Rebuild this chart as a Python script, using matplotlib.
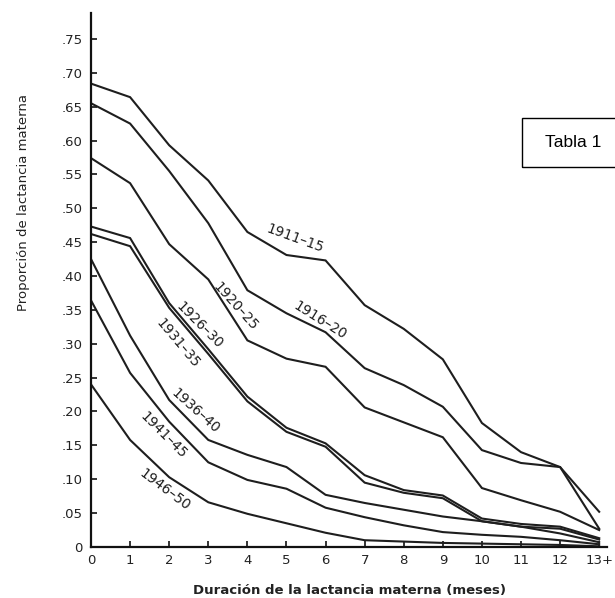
import matplotlib
matplotlib.use("Agg")
import matplotlib.pyplot as plt
from matplotlib.patches import Rectangle

months = list(range(14))
x_labels = ["0", "1", "2", "3", "4", "5", "6", "7", "8", "9", "10", "11", "12", "13+"]
y_ticks = [0, .05, .10, .15, .20, .25, .30, .35, .40, .45, .50, .55, .60, .65, .70, .75]
y_labels = ["0", ".05", ".10", ".15", ".20", ".25", ".30", ".35", ".40", ".45",
            ".50", ".55", ".60", ".65", ".70", ".75"]

c1911_15 = [0.684, 0.664, 0.593, 0.541, 0.465, 0.431, 0.423, 0.357, 0.322, 0.277, 0.183, 0.140, 0.118, 0.052]
c1916_20 = [0.655, 0.625, 0.555, 0.478, 0.379, 0.345, 0.317, 0.264, 0.239, 0.207, 0.143, 0.124, 0.118, 0.027]
c1920_25 = [0.574, 0.537, 0.447, 0.395, 0.305, 0.278, 0.266, 0.206, 0.184, 0.162, 0.087, 0.069, 0.052, 0.025]
c1926_30 = [0.473, 0.456, 0.360, 0.292, 0.222, 0.176, 0.153, 0.106, 0.084, 0.076, 0.042, 0.034, 0.030, 0.013]
c1931_35 = [0.462, 0.444, 0.353, 0.285, 0.215, 0.170, 0.148, 0.095, 0.080, 0.072, 0.038, 0.030, 0.027, 0.011]
c1936_40 = [0.425, 0.312, 0.217, 0.158, 0.136, 0.118, 0.077, 0.065, 0.055, 0.045, 0.038, 0.030, 0.020, 0.007]
c1941_45 = [0.364, 0.257, 0.185, 0.125, 0.099, 0.086, 0.058, 0.044, 0.032, 0.022, 0.018, 0.015, 0.010, 0.004]
c1946_50 = [0.240, 0.158, 0.103, 0.066, 0.049, 0.035, 0.021, 0.010, 0.008, 0.006, 0.005, 0.004, 0.003, 0.001]

series = [
    ("1911–15", c1911_15, 5.22, 0.455, -20),
    ("1916–20", c1916_20, 5.86, 0.335, -32),
    ("1920–25", c1920_25, 3.68, 0.355, -48),
    ("1926–30", c1926_30, 2.76, 0.327, -45),
    ("1931–35", c1931_35, 2.23, 0.301, -50),
    ("1936–40", c1936_40, 2.68, 0.201, -42),
    ("1941–45", c1941_45, 1.84, 0.165, -45),
    ("1946–50", c1946_50, 1.89, 0.084, -37),
]

fig = plt.figure(figsize=(6.15, 5.98), dpi=100)
ax = fig.add_axes([0.148, 0.0853, 0.839, 0.8927])

line_color = "#1e1e1e"
for name, vals, tx, ty, rot in series:
    ax.plot(months, vals, color=line_color, linewidth=1.5, solid_joinstyle="miter")
    ax.text(tx, ty, name, rotation=rot, ha="center", va="center",
            fontsize=10, color="#1e1e1e", rotation_mode="anchor")

ax.set_xlim(0, 13.2)
ax.set_ylim(0, 0.788)
ax.set_xticks(months)
ax.set_xticklabels(x_labels)
ax.set_yticks(y_ticks)
ax.set_yticklabels(y_labels)

for s in ["top", "right"]:
    ax.spines[s].set_visible(False)
for s in ["left", "bottom"]:
    ax.spines[s].set_linewidth(1.6)
    ax.spines[s].set_color("#111111")

ax.tick_params(axis="both", direction="in", length=4, width=1.2, colors="#111111",
               labelsize=9.5, labelcolor="#222222")
ax.tick_params(axis="y", pad=6)
ax.tick_params(axis="x", pad=5)

ax.set_ylabel("Proporción de lactancia materna", fontsize=9.5, color="#222222")
ax.yaxis.set_label_coords(-0.118, 0.646)
ax.set_xlabel("Duración de la lactancia materna (meses)", fontsize=9.5,
              fontweight="bold", color="#222222", labelpad=12)

# "Tabla 1" box at top right, partly cut by the figure edge
fig.patches.append(Rectangle((522 / 615, 1 - 167 / 598), 0.2, 49 / 598,
                             transform=fig.transFigure, fill=False,
                             edgecolor="black", linewidth=1.0))
fig.text(545 / 615, 1 - 142 / 598, "Tabla 1", fontsize=12.5, va="center",
         ha="left", family="Liberation Sans", color="black")

fig.savefig("out.png", dpi=100)
